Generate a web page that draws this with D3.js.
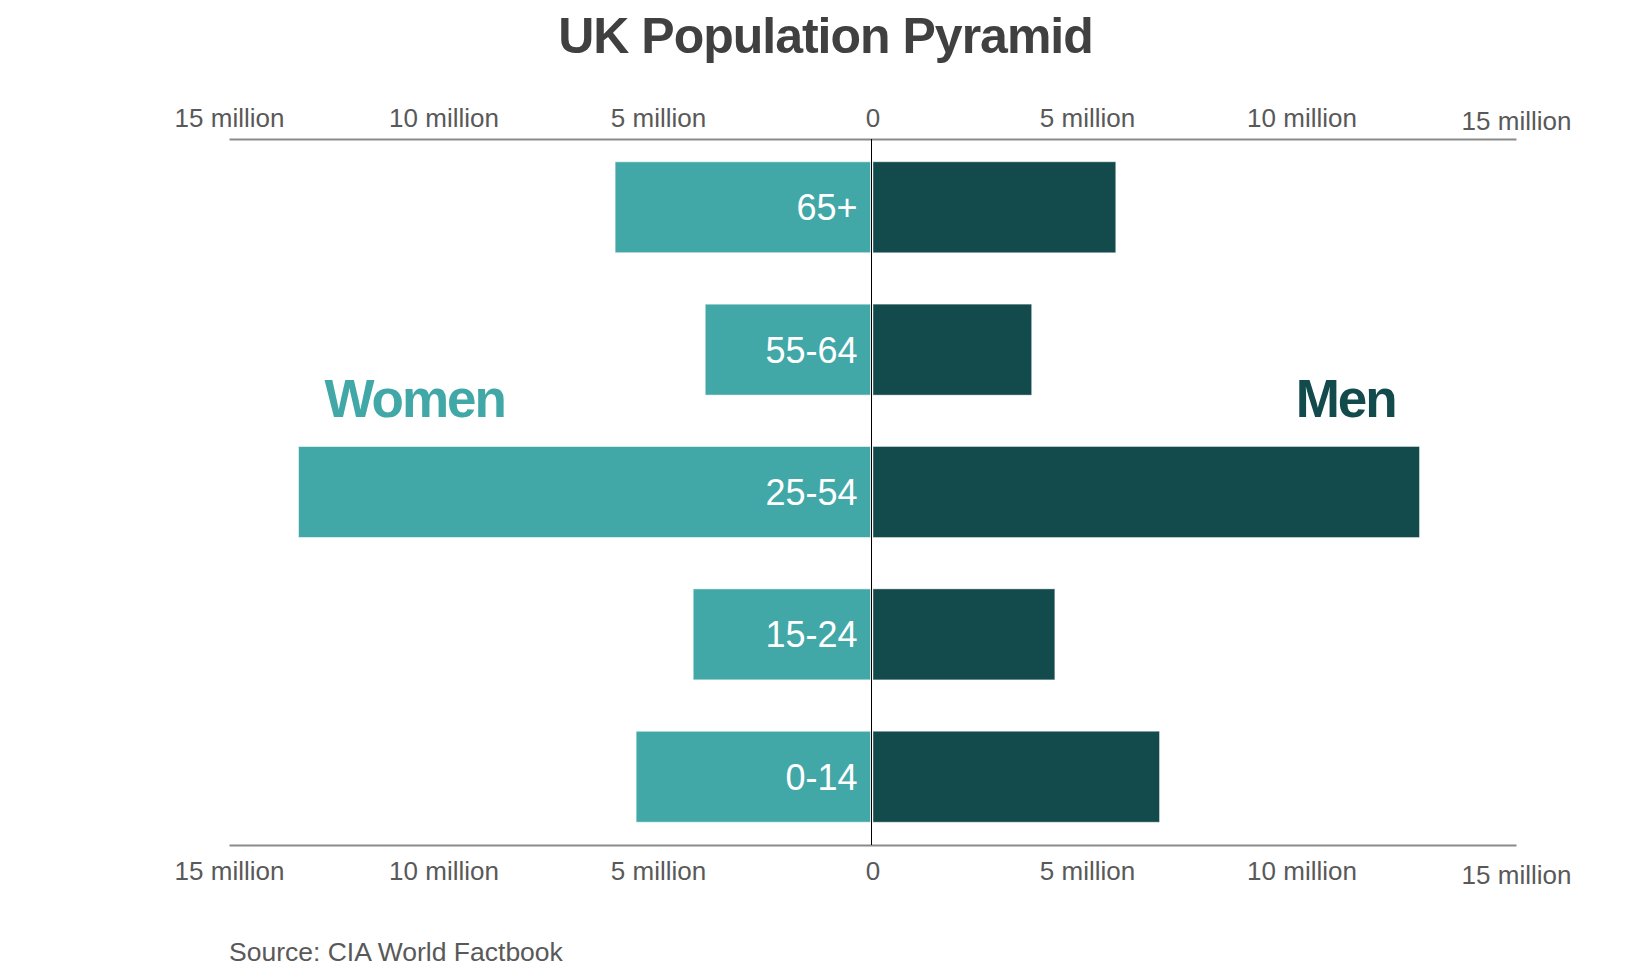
<!DOCTYPE html>
<html>
<head>
  <meta charset="utf-8">
  <title>UK Population Pyramid</title>
  <script src="https://d3js.org/d3.v7.min.js"></script>
  <style>
    body { margin: 0; background: #fff; }
    text { font-family: "Liberation Sans", Arial, sans-serif; }
    .axis text { font-size: 26px; fill: #595959; }
    .axis .domain { stroke: #8a8a8a; stroke-width: 2; }
    .axis .tick line { display: none; }
  </style>
</head>
<body>
  <svg id="chart"></svg>

  <script>
    // Data (millions)
    const ages = ["65+", "55-64", "25-54", "15-24", "0-14"];
    const women = [6.0, 3.9, 13.38, 4.18, 5.51];
    const men = [5.67, 3.71, 12.75, 4.25, 6.69];
    const tickValues = [-15, -10, -5, 0, 5, 10, 15];

    const width = 1651;
    const height = 980;

    const svg = d3.select("#chart")
                  .attr("width", width)
                  .attr("height", height);

    // Scales
    const x = d3.scaleLinear()
                .domain([-15, 15])
                .range([229, 1516]);

    const y = d3.scaleBand()
                .domain(ages)
                .range([139, 845])
                .paddingInner(0.361)
                .paddingOuter(0.16);

    const rows = ages.map((a, i) => ({ age: a, women: women[i], men: men[i] }));

    // Title
    svg.append("text")
       .attr("x", width / 2)
       .attr("y", 53)
       .attr("text-anchor", "middle")
       .style("font-size", "50px")
       .style("font-weight", "bold")
       .style("letter-spacing", "-1px")
       .style("fill", "#404040")
       .text("UK Population Pyramid");

    // Axes
    const fmt = d => d === 0 ? "0" : Math.abs(d) + " million";

    svg.append("g")
       .attr("class", "axis")
       .attr("transform", `translate(0,${y.range()[0]})`)
       .call(d3.axisTop(x).tickValues(tickValues).tickFormat(fmt)
               .tickSize(0).tickPadding(12))
       .selectAll(".tick text")
       .attr("dy", d => d === 15 ? "3px" : "0");

    svg.append("g")
       .attr("class", "axis")
       .attr("transform", `translate(0,${y.range()[1]})`)
       .call(d3.axisBottom(x).tickValues(tickValues).tickFormat(fmt)
               .tickSize(0).tickPadding(17))
       .selectAll(".tick text")
       .attr("dy", d => d === 15 ? "0.86em" : "0.71em");

    svg.selectAll(".axis").attr("font-family", null).attr("font-size", null);

    // Bars
    const bars = svg.append("g");

    bars.selectAll(".women")
        .data(rows)
        .enter()
        .append("rect")
        .attr("class", "women")
        .attr("x", d => x(-d.women))
        .attr("y", d => y(d.age))
        .attr("width", d => x(0) - x(-d.women) - 2)
        .attr("height", y.bandwidth())
        .attr("fill", "#41a8a7")
        .attr("stroke", "rgba(255,255,255,0.55)")
        .attr("stroke-width", 1);

    bars.selectAll(".men")
        .data(rows)
        .enter()
        .append("rect")
        .attr("class", "men")
        .attr("x", x(0) + 0.5)
        .attr("y", d => y(d.age))
        .attr("width", d => x(d.men) - x(0) - 0.5)
        .attr("height", y.bandwidth())
        .attr("fill", "#134a4c")
        .attr("stroke", "rgba(255,255,255,0.4)")
        .attr("stroke-width", 1);

    // Age labels
    bars.selectAll(".age")
        .data(rows)
        .enter()
        .append("text")
        .attr("class", "age")
        .attr("x", x(0) - 15)
        .attr("y", d => y(d.age) + y.bandwidth() / 2)
        .attr("dy", "0.36em")
        .attr("text-anchor", "end")
        .style("font-size", "36px")
        .style("fill", "#fff")
        .text(d => d.age);

    // Zero line
    svg.append("line")
       .attr("x1", x(0) - 1)
       .attr("x2", x(0) - 1)
       .attr("y1", y.range()[0])
       .attr("y2", y.range()[1])
       .attr("stroke", "#000")
       .attr("stroke-width", 1);

    // Series labels
    svg.append("text")
       .attr("x", x(-10.67))
       .attr("y", 417)
       .attr("text-anchor", "middle")
       .style("font-size", "53px")
       .style("font-weight", "bold")
       .style("letter-spacing", "-2px")
       .style("fill", "#41a8a7")
       .text("Women");

    svg.append("text")
       .attr("x", x(11.03))
       .attr("y", 417)
       .attr("text-anchor", "middle")
       .style("font-size", "53px")
       .style("font-weight", "bold")
       .style("letter-spacing", "-2px")
       .style("fill", "#134a4c")
       .text("Men");

    // Source
    svg.append("text")
       .attr("x", 229)
       .attr("y", 961)
       .style("font-size", "26.5px")
       .style("fill", "#595959")
       .text("Source: CIA World Factbook");
  </script>
</body>
</html>
